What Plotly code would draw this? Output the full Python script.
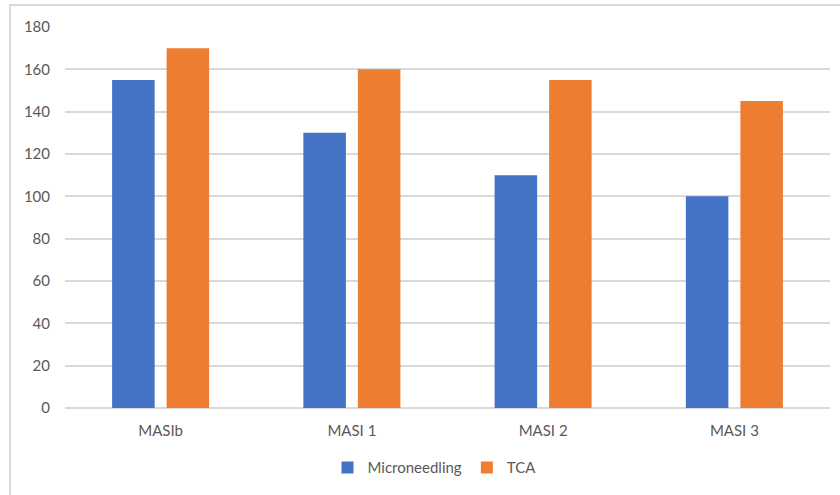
import plotly.graph_objects as go

categories = ["MASIb", "MASI 1", "MASI 2", "MASI 3"]
microneedling = [155, 130, 110, 100]
tca = [170, 160, 155, 145]
y_ticks = [0, 20, 40, 60, 80, 100, 120, 140, 160, 180]

FONT = "Lato"
TEXT = "#595959"
GRID = "#d9d9d9"

fig = go.Figure()
fig.add_trace(go.Bar(name="Microneedling", x=categories, y=microneedling,
                     marker=dict(color="#4472C4", line=dict(width=0))))
fig.add_trace(go.Bar(name="TCA", x=categories, y=tca,
                     marker=dict(color="#ED7D31", line=dict(width=0))))

W, H = 840, 495
L, R, T, B = 65, 10, 27, 87
pw, ph = W - L - R, H - T - B

# outer chart frame (left and top edges visible)
fig.add_shape(type="rect", xref="paper", yref="paper",
              x0=(10 - L) / pw, x1=(W + 20 - L) / pw,
              y0=(H - B - (H + 20)) / ph, y1=(H - B - 5) / ph,
              line=dict(color=GRID, width=2), fillcolor="rgba(0,0,0,0)", layer="below")

fig.update_layout(
    width=W, height=H,
    margin=dict(l=L, r=R, t=T, b=B),
    paper_bgcolor="white", plot_bgcolor="white",
    barmode="group", bargap=0.43, bargroupgap=0.22,
    font=dict(family=FONT, size=15, color=TEXT),
    showlegend=True,
    legend=dict(orientation="h", x=0.483, xanchor="center", y=-0.157, yanchor="middle",
                font=dict(family=FONT, size=15, color=TEXT), itemwidth=30,
                traceorder="normal"),
    xaxis=dict(showgrid=False, showline=False, ticks="", ticklabelstandoff=12,
               tickfont=dict(size=15, color=TEXT)),
    yaxis=dict(range=[0, 180], tickvals=y_ticks, showgrid=True, gridcolor=GRID, gridwidth=1.5,
               zeroline=True, zerolinecolor=GRID, zerolinewidth=1.5,
               showline=False, ticks="", ticklabelstandoff=14,
               tickfont=dict(size=15, color=TEXT)),
)

fig.write_html("out.html")
